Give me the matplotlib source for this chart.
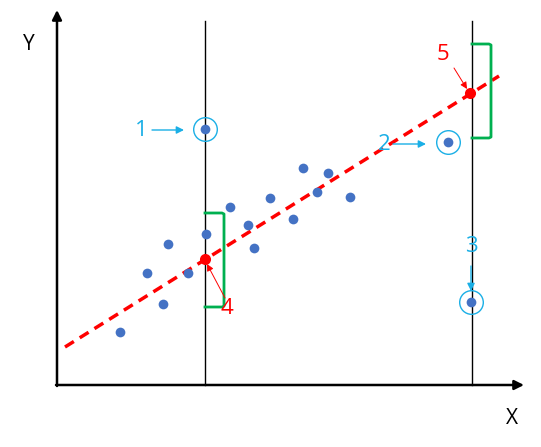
import matplotlib.pyplot as plt

# scatter data (picture units, y grows downward)
pts_x = [120, 147, 163, 168, 188, 206, 230, 248, 254, 270, 293, 303, 317, 328, 350]
pts_y = [332, 273, 304, 244, 273, 234, 207, 225, 248, 198, 219, 168, 192, 173, 197]

# outliers 1, 2, 3
out_x = [205, 448, 471]
out_y = [129, 142, 302]
out_lbl = ["1", "2", "3"]

# regression line and the two predicted points (4, 5)
line_x = [65, 499]
line_y = [347, 76]
pred_x = [205, 470]
pred_y = [259, 93]
pred_lbl = ["4", "5"]

# vertical guide lines
guide_x = [205, 472]

blue = "#4472C4"
cyan = "#1AAFE6"
red = "#FF0000"
green = "#00B050"

fig = plt.figure(figsize=(5.41, 4.47), dpi=100)
ax = fig.add_axes([0, 0, 1, 1])
ax.set_xlim(0, 541)
ax.set_ylim(447, 0)
ax.axis("off")

# axes arrows
ax.annotate("", xy=(57, 10), xytext=(57, 386),
            arrowprops=dict(arrowstyle="-|>", color="black", lw=1.8, mutation_scale=14,
                            shrinkA=0, shrinkB=0))
ax.annotate("", xy=(524, 385), xytext=(56, 385),
            arrowprops=dict(arrowstyle="-|>", color="black", lw=1.8, mutation_scale=14,
                            shrinkA=0, shrinkB=0))
ax.text(29, 45, "Y", fontsize=15, ha="center", va="center", family="Open Sans")
ax.text(512, 418, "X", fontsize=15, ha="center", va="center", family="Open Sans")

# vertical guides
for gx in guide_x:
    ax.plot([gx, gx], [21, 385], color="black", lw=1)

# regression line
ax.plot(line_x, line_y, color=red, lw=2.5, ls=(0, (3, 2)))

# scatter
ax.plot(pts_x, pts_y, "o", color=blue, ms=7, mec="none")
ax.plot(out_x, out_y, "o", color=blue, ms=7, mec="none")
ax.plot(out_x, out_y, "o", mfc="none", mec=cyan, ms=17, mew=1)


def arrow(p0, p1, col, lw, ms):
    ax.annotate("", xy=p1, xytext=p0,
                arrowprops=dict(arrowstyle="-|>", color=col, lw=lw, mutation_scale=ms,
                                shrinkA=0, shrinkB=0))


# outlier labels with arrows
tkw = dict(fontsize=16, ha="center", va="center", family="Open Sans")
ax.text(141, 130, out_lbl[0], color=cyan, **tkw)
arrow((152, 130), (184, 130), cyan, 1, 11)
ax.text(384, 144, out_lbl[1], color=cyan, **tkw)
arrow((393, 144), (426, 144), cyan, 1, 11)
ax.text(471, 246, out_lbl[2], color=cyan, **tkw)
arrow((471, 266), (471, 291), cyan, 1, 11)

# green brackets
ax.plot([205, 222, 224, 224, 222, 205], [213, 213, 214, 306, 307, 307], color=green, lw=2)
ax.plot([472, 489, 491, 491, 489, 472], [44, 44, 45, 137, 138, 138], color=green, lw=2)

# predicted points
ax.plot(pred_x, pred_y, "o", color=red, ms=8, mec="none")
ax.text(227, 308, pred_lbl[0], color=red, **tkw)
arrow((225, 298), (207, 264), red, 0.7, 10)
ax.text(443, 55, pred_lbl[1], color=red, **tkw)
arrow((454, 68), (467, 89), red, 0.7, 10)

fig.savefig("out.png", dpi=100)
